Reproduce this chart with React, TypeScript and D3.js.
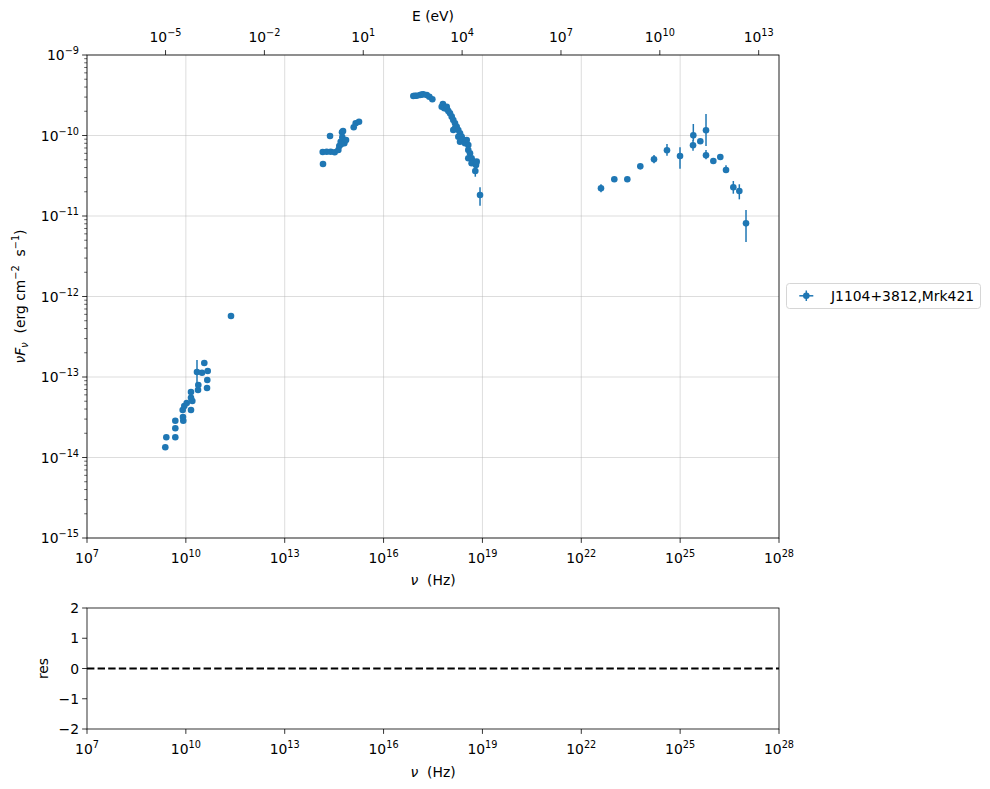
import * as React from 'react';
import * as d3 from 'd3';

// log10 values: [log10 nu (Hz)], [log10 nuFnu (erg cm^-2 s^-1)]
const radioNu = [9.376, 9.407, 9.680, 9.680, 9.680, 9.922, 9.913, 9.904, 9.953, 10.026, 10.156, 10.196, 10.156, 10.156, 10.369, 10.378, 10.338, 10.490, 10.663, 10.651, 10.642, 10.560, 11.370];
const radioF = [-13.873, -13.749, -13.749, -13.637, -13.543, -13.543, -13.497, -13.410, -13.360, -13.323, -13.410, -13.298, -13.257, -13.186, -13.161, -13.099, -12.938, -12.947, -12.925, -13.037, -13.137, -12.826, -12.242];

const optNu = [14.162, 14.153, 14.274, 14.396, 14.517, 14.375, 14.627, 14.657, 14.699, 14.748, 14.739, 14.809, 14.860, 14.710, 14.770, 15.094, 15.154, 15.255];
const optF = [-10.354, -10.205, -10.201, -10.201, -10.209, -10.006, -10.180, -10.130, -10.077, -10.022, -9.960, -10.097, -10.056, -10.110, -9.944, -9.898, -9.848, -9.829];

const xrayNu = [16.903, 16.950, 17.006, 17.106, 17.160, 17.206, 17.310, 17.389, 17.480, 17.764, 17.800, 17.843, 17.916, 17.925, 17.965, 18.016, 18.068, 18.116, 18.168, 18.219, 18.116, 18.168, 18.268, 18.320, 18.371, 18.268, 18.420, 18.320, 18.471, 18.523, 18.571, 18.571, 18.623, 18.571, 18.672, 18.723, 18.672, 18.805, 18.826, 18.784, 18.927];
const xrayF = [-9.509, -9.507, -9.506, -9.497, -9.492, -9.488, -9.497, -9.518, -9.550, -9.642, -9.609, -9.662, -9.642, -9.671, -9.696, -9.724, -9.766, -9.807, -9.848, -9.891, -9.932, -9.911, -9.932, -9.973, -10.015, -10.015, -10.056, -10.077, -10.097, -10.056, -10.118, -10.180, -10.221, -10.283, -10.283, -10.325, -10.345, -10.366, -10.325, -10.441, -10.739];

const gammaNu = [22.598, 23.002, 23.397, 23.791, 24.207, 24.601, 24.996, 25.391, 25.400, 25.612, 25.785, 25.785, 26.007, 26.219, 26.392, 26.614, 26.796, 26.999];
const gammaF = [-10.656, -10.544, -10.544, -10.383, -10.296, -10.184, -10.255, -10.122, -9.998, -10.072, -9.935, -10.246, -10.317, -10.267, -10.429, -10.643, -10.689, -11.091];

// visible vertical error bars: nu, lower, upper (log10)
const errNu = [10.338, 18.784, 18.927, 22.598, 24.207, 24.601, 24.996, 25.391, 25.400, 25.785, 25.785, 26.392, 26.614, 26.796, 26.999];
const errLo = [-13.087, -10.512, -10.872, -10.706, -10.345, -10.251, -10.412, -10.189, -10.065, -10.130, -10.296, -10.462, -10.723, -10.793, -11.323];
const errHi = [-12.789, -10.380, -10.643, -10.606, -10.242, -10.106, -10.147, -10.056, -9.857, -9.733, -10.180, -10.370, -10.565, -10.606, -10.925];

const nuTicks = [7, 10, 13, 16, 19, 22, 25, 28];
const fluxTicks = [-15, -14, -13, -12, -11, -10, -9];
const energyTicks = [-5, -2, 1, 4, 7, 10, 13];
const resTicks = [-2, -1, 0, 1, 2];

const H_EV = 4.135667e-15;
const BLUE = '#1f77b4';
const FONT = 'DejaVu Sans, sans-serif';
const FS = 13.9;
const SP2 = '\u00a0\u00a0';

function Pow(props: { x: number, y: number, exp: number, anchor: string }) {
    let e = props.exp < 0 ? '\u2212' + Math.abs(props.exp) : String(props.exp);
    return (
        <text x={props.x} y={props.y} textAnchor={props.anchor} fontSize={FS} fontFamily={FONT}>
            <tspan>10</tspan>
            <tspan dy={-6} fontSize={FS * 0.7}>{e}</tspan>
        </text>
    );
}

export default function App() {
    const left = 87, right = 779;
    const mainTop = 55, mainBottom = 538;
    const resTop = 608, resBottom = 729;

    const x = d3.scaleLog().domain([1e7, 1e28]).range([left, right]);
    const y = d3.scaleLog().domain([1e-15, 1e-9]).range([mainBottom, mainTop]);
    const r = d3.scaleLinear().domain([-2, 2]).range([resBottom, resTop]);

    const allNu = [...radioNu, ...optNu, ...xrayNu, ...gammaNu];
    const allF = [...radioF, ...optF, ...xrayF, ...gammaF];

    const minor: number[] = [];
    for (let k = -15; k < -9; k++) {
        for (let m = 2; m <= 9; m++) minor.push(m * Math.pow(10, k));
    }

    return (
        <svg width={990} height={789} style={{ position: 'absolute', left: 0, top: 0, background: '#fff' }}>
            <rect x={0} y={0} width={990} height={789} fill="#fff" />

            {/* grid */}
            <g stroke="#b0b0b0" strokeOpacity={0.55} strokeWidth={0.8}>
                {nuTicks.map((t) => (
                    <line key={'gx' + t} x1={x(Math.pow(10, t))} x2={x(Math.pow(10, t))} y1={mainTop} y2={mainBottom} />
                ))}
                {fluxTicks.map((t) => (
                    <line key={'gy' + t} x1={left} x2={right} y1={y(Math.pow(10, t))} y2={y(Math.pow(10, t))} />
                ))}
            </g>

            {/* error bars */}
            <g stroke={BLUE} strokeWidth={1.5}>
                {errNu.map((n, i) => (
                    <line key={'e' + i} x1={x(Math.pow(10, n))} x2={x(Math.pow(10, n))}
                          y1={y(Math.pow(10, errLo[i]))} y2={y(Math.pow(10, errHi[i]))} />
                ))}
            </g>

            {/* data points */}
            <g fill={BLUE}>
                {allNu.map((n, i) => (
                    <circle key={'p' + i} cx={x(Math.pow(10, n))} cy={y(Math.pow(10, allF[i]))} r={3.3} />
                ))}
            </g>

            {/* main frame */}
            <rect x={left} y={mainTop} width={right - left} height={mainBottom - mainTop} fill="none" stroke="#000" strokeWidth={0.8} />

            {/* bottom ticks */}
            {nuTicks.map((t) => {
                let px = x(Math.pow(10, t));
                return (
                    <g key={'bx' + t}>
                        <line x1={px} x2={px} y1={mainBottom} y2={mainBottom + 4.9} stroke="#000" strokeWidth={0.8} />
                        <Pow x={px} y={mainBottom + 25} exp={t} anchor="middle" />
                    </g>
                );
            })}
            <text x={(left + right) / 2} y={585} textAnchor="middle" fontSize={FS} fontFamily={FONT}>
                <tspan fontStyle="italic">ν</tspan>{SP2}(Hz)
            </text>

            {/* top energy axis */}
            {energyTicks.map((t) => {
                let px = x(Math.pow(10, t) / H_EV);
                return (
                    <g key={'tx' + t}>
                        <line x1={px} x2={px} y1={mainTop} y2={mainTop - 4.9} stroke="#000" strokeWidth={0.8} />
                        <Pow x={px} y={42} exp={t} anchor="middle" />
                    </g>
                );
            })}
            <text x={(left + right) / 2} y={21} textAnchor="middle" fontSize={FS} fontFamily={FONT}>E (eV)</text>

            {/* left ticks */}
            {minor.map((v, i) => (
                <line key={'mn' + i} x1={left} x2={left - 2.8} y1={y(v)} y2={y(v)} stroke="#000" strokeWidth={0.6} />
            ))}
            {fluxTicks.map((t) => {
                let py = y(Math.pow(10, t));
                return (
                    <g key={'ly' + t}>
                        <line x1={left} x2={left - 4.9} y1={py} y2={py} stroke="#000" strokeWidth={0.8} />
                        <Pow x={left - 8} y={py + 5} exp={t} anchor="end" />
                    </g>
                );
            })}
            <text transform={`translate(25,${(mainTop + mainBottom) / 2}) rotate(-90)`} textAnchor="middle" fontSize={FS} fontFamily={FONT}>
                <tspan fontStyle="italic">νF</tspan>
                <tspan fontStyle="italic" fontSize={FS * 0.7} dy={3}>ν</tspan>
                <tspan dy={-3}>{SP2}(erg cm</tspan>
                <tspan fontSize={FS * 0.7} dy={-6}>−2</tspan>
                <tspan dy={6}>{SP2}s</tspan>
                <tspan fontSize={FS * 0.7} dy={-6}>−1</tspan>
                <tspan dy={6}>)</tspan>
            </text>

            {/* legend */}
            <rect x={786.5} y={283.5} width={194} height={25} rx={3} fill="#fff" fillOpacity={0.8} stroke="#cccccc" strokeWidth={0.8} />
            <line x1={799.3} x2={813.3} y1={295.8} y2={295.8} stroke={BLUE} strokeWidth={1.5} />
            <line x1={806.3} x2={806.3} y1={290.5} y2={301} stroke={BLUE} strokeWidth={1.5} />
            <circle cx={806.3} cy={295.8} r={3.3} fill={BLUE} />
            <text x={831} y={301} fontSize={FS} fontFamily={FONT}>J1104+3812,Mrk421</text>

            {/* residual panel */}
            <line x1={left} x2={right} y1={r(0)} y2={r(0)} stroke="#000" strokeWidth={2} strokeDasharray="7.4,3.2" />
            <rect x={left} y={resTop} width={right - left} height={resBottom - resTop} fill="none" stroke="#000" strokeWidth={0.8} />
            {resTicks.map((t) => {
                let py = r(t);
                return (
                    <g key={'ry' + t}>
                        <line x1={left} x2={left - 4.9} y1={py} y2={py} stroke="#000" strokeWidth={0.8} />
                        <text x={left - 8} y={py + 5} textAnchor="end" fontSize={FS} fontFamily={FONT}>
                            {t < 0 ? '\u2212' + Math.abs(t) : String(t)}
                        </text>
                    </g>
                );
            })}
            {nuTicks.map((t) => {
                let px = x(Math.pow(10, t));
                return (
                    <g key={'rx' + t}>
                        <line x1={px} x2={px} y1={resBottom} y2={resBottom + 4.9} stroke="#000" strokeWidth={0.8} />
                        <Pow x={px} y={resBottom + 25} exp={t} anchor="middle" />
                    </g>
                );
            })}
            <text transform={`translate(48,${(resTop + resBottom) / 2}) rotate(-90)`} textAnchor="middle" fontSize={FS} fontFamily={FONT}>res</text>
            <text x={(left + right) / 2} y={777} textAnchor="middle" fontSize={FS} fontFamily={FONT}>
                <tspan fontStyle="italic">ν</tspan>{SP2}(Hz)
            </text>
        </svg>
    );
}
